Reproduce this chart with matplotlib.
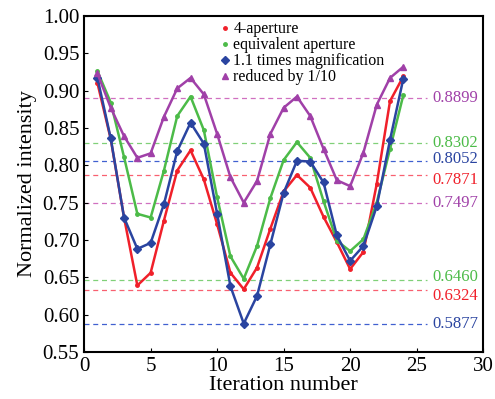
import matplotlib.pyplot as plt
import numpy as np

plt.rcParams['font.family'] = ['Liberation Serif', 'DejaVu Serif']

iterations = np.arange(1, 25)

four_aperture = [0.910, 0.835, 0.730, 0.639, 0.656, 0.726, 0.793, 0.820, 0.781, 0.721,
                 0.656, 0.634, 0.663, 0.715, 0.765, 0.787, 0.770, 0.731, 0.697, 0.661,
                 0.684, 0.775, 0.886, 0.919]
equivalent = [0.926, 0.884, 0.811, 0.735, 0.730, 0.793, 0.866, 0.892, 0.847, 0.757,
              0.678, 0.648, 0.692, 0.756, 0.807, 0.831, 0.810, 0.752, 0.699, 0.685,
              0.701, 0.750, 0.822, 0.894]
magnified = [0.917, 0.836, 0.730, 0.688, 0.696, 0.748, 0.819, 0.857, 0.829, 0.735,
             0.638, 0.588, 0.625, 0.694, 0.763, 0.806, 0.805, 0.777, 0.706, 0.672,
             0.692, 0.745, 0.834, 0.916]
reduced = [0.923, 0.877, 0.839, 0.810, 0.816, 0.865, 0.903, 0.917, 0.895, 0.842,
           0.784, 0.750, 0.779, 0.842, 0.877, 0.892, 0.866, 0.822, 0.780, 0.772,
           0.817, 0.881, 0.917, 0.932]

labels = ['4-aperture', 'equivalent aperture', '1.1 times magnification', 'reduced by 1/10']

# reference levels and which series they belong to
ref_values = [0.8899, 0.8302, 0.8052, 0.7871, 0.7497, 0.6460, 0.6324, 0.5877]
ref_series = [3, 1, 2, 0, 3, 1, 0, 2]
# small vertical nudge (in points) so close labels don't sit on top of each other
ref_nudge = [0, 0, 2, -4, 0, 2, -4, 0]

line_colors = ['#f0202a', '#4cbb48', '#2a44a0', '#a040a8']
dash_colors = ['#f86070', '#80d078', '#4060d0', '#d070c0']
markers = ['o', 'o', 'D', '^']
msizes = [2.5, 2.5, 4, 5]

fig = plt.figure(figsize=(4.95, 3.99), dpi=100)
ax = fig.add_axes([0.170, 0.118, 0.806, 0.842])

for val, s, dy in zip(ref_values, ref_series, ref_nudge):
    ax.plot([0, 25.8], [val, val], ls=(0, (4, 3)), lw=0.9, color=dash_colors[s], zorder=1)
    ax.annotate(f'{val:.4f}', (26.15, val), xytext=(0, dy), textcoords='offset points',
                color=line_colors[s], fontsize=12, va='center', ha='left')

for data, lab, c, m, ms in zip([four_aperture, equivalent, magnified, reduced],
                               labels, line_colors, markers, msizes):
    ax.plot(iterations, data, color=c, marker=m, ms=ms, lw=1.8, label=lab, zorder=3)

ax.set_xlim(0, 30)
ax.set_ylim(0.55, 1.00)
ax.set_xticks(np.arange(0, 31, 5))
ax.set_yticks(np.arange(0.55, 1.001, 0.05))
ax.set_yticklabels([f'{v:.2f}' for v in np.arange(0.55, 1.001, 0.05)])
ax.tick_params(direction='in', length=3, labelsize=15, top=False, right=False)
for sp in ax.spines.values():
    sp.set_linewidth(1.5)

ax.set_xlabel('Iteration number', fontsize=16, labelpad=0)
ax.set_ylabel('Normalized intensity', fontsize=16, labelpad=4)

leg = ax.legend(loc='upper left', bbox_to_anchor=(0.31, 1.022), frameon=False,
                fontsize=11.5, handlelength=0.5, handletextpad=0.3,
                labelspacing=0.0, borderpad=0.3)
for h in leg.legend_handles:
    h.set_linestyle('none')

fig.savefig('out.png', dpi=100)
